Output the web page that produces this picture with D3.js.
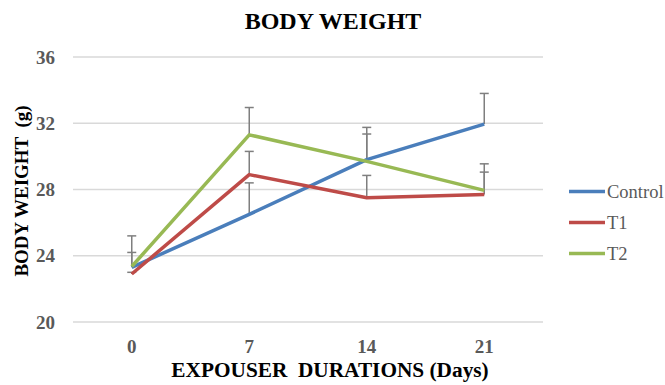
<!DOCTYPE html>
<html><head><meta charset="utf-8">
<script src="https://cdn.jsdelivr.net/npm/d3@7"></script>
<style>body{margin:0;background:#fff;}svg{display:block;}
text{font-family:"Liberation Serif","Times New Roman","DejaVu Serif",serif;}</style>
</head><body>
<svg id="c" width="665" height="385"></svg>
<script>
const days = ["0", "7", "14", "21"];
const seriesNames = ["Control", "T1", "T2"];
const controlValues = [23.3, 26.5, 29.8, 31.95];
const t1Values = [22.9, 28.9, 27.5, 27.7];
const t2Values = [23.35, 31.3, 29.7, 27.95];
const controlErr = [1.9, 1.9, 1.95, 1.85];
const t1Err = [0.1, 1.4, 1.35, 1.35];
const t2Err = [0.85, 1.65, 1.65, 1.6];
const yTicks = [20, 24, 28, 32, 36];
const colors = ["#4A7EBB", "#BE4B48", "#98B954"];

const series = [
  {name: seriesNames[0], values: controlValues, err: controlErr, color: colors[0]},
  {name: seriesNames[1], values: t1Values, err: t1Err, color: colors[1]},
  {name: seriesNames[2], values: t2Values, err: t2Err, color: colors[2]}
];

const svg = d3.select("#c");
const pLeft = 73, pRight = 543, pTop = 57, pBottom = 322;
const x = d3.scaleBand().domain(days).range([pLeft, pRight]);
const y = d3.scaleLinear().domain([20, 36]).range([pBottom, pTop]);

// gridlines
svg.append("g").selectAll("line").data(yTicks).join("line")
  .attr("x1", pLeft).attr("x2", pRight)
  .attr("y1", d => y(d)).attr("y2", d => y(d))
  .attr("stroke", "#d9d9d9").attr("stroke-width", 1.3);

// y tick labels
svg.append("g").selectAll("text").data(yTicks).join("text")
  .attr("x", 55).attr("y", d => y(d) + 6.5)
  .attr("text-anchor", "end")
  .attr("font-weight", "bold").attr("font-size", 19)
  .attr("fill", "#595959").text(d => d);

// x tick labels
svg.append("g").selectAll("text").data(days).join("text")
  .attr("x", d => x(d) + x.bandwidth() / 2).attr("y", 353)
  .attr("text-anchor", "middle")
  .attr("font-weight", "bold").attr("font-size", 19)
  .attr("fill", "#595959").text(d => d);

// error bars
const eg = svg.append("g");
series.forEach(s => {
  s.values.forEach((v, i) => {
    const cx = x(days[i]) + x.bandwidth() / 2;
    eg.append("line").attr("x1", cx).attr("x2", cx)
      .attr("y1", y(v)).attr("y2", y(v + s.err[i]))
      .attr("stroke", "#7f7f7f").attr("stroke-width", 1.5);
    eg.append("line").attr("x1", cx - 4.5).attr("x2", cx + 4.5)
      .attr("y1", y(v + s.err[i])).attr("y2", y(v + s.err[i]))
      .attr("stroke", "#7f7f7f").attr("stroke-width", 1.5);
  });
});

// lines
const line = d3.line().x((d, i) => x(days[i]) + x.bandwidth() / 2).y(d => y(d));
svg.append("g").selectAll("path").data(series).join("path")
  .attr("d", s => line(s.values))
  .attr("fill", "none").attr("stroke", s => s.color)
  .attr("stroke-width", 3.5).attr("stroke-linejoin", "round");

// legend
const lg = svg.append("g");
series.forEach((s, i) => {
  const ly = 191.5 + i * 31;
  lg.append("line").attr("x1", 569).attr("x2", 605).attr("y1", ly).attr("y2", ly)
    .attr("stroke", s.color).attr("stroke-width", 3.5);
  lg.append("text").attr("x", 607).attr("y", ly + 6.5)
    .attr("font-size", 18.5)
    .attr("fill", "#595959").text(s.name);
});

// title
svg.append("text").attr("x", 333).attr("y", 29).attr("text-anchor", "middle")
  .attr("font-weight", "bold").attr("font-size", 24)
  .attr("fill", "#000").text("BODY WEIGHT");

// x title
svg.append("text").attr("x", 330).attr("y", 377).attr("text-anchor", "middle")
  .attr("font-weight", "bold").attr("font-size", 21.3)
  .attr("fill", "#000").style("white-space", "pre").text("EXPOUSER  DURATIONS (Days)");

// y title
svg.append("text").attr("transform", "translate(28,191) rotate(-90)")
  .attr("text-anchor", "middle")
  .attr("font-weight", "bold").attr("font-size", 19)
  .attr("fill", "#000").style("white-space", "pre").text("BODY WEIGHT  (g)");
</script>
</body></html>
